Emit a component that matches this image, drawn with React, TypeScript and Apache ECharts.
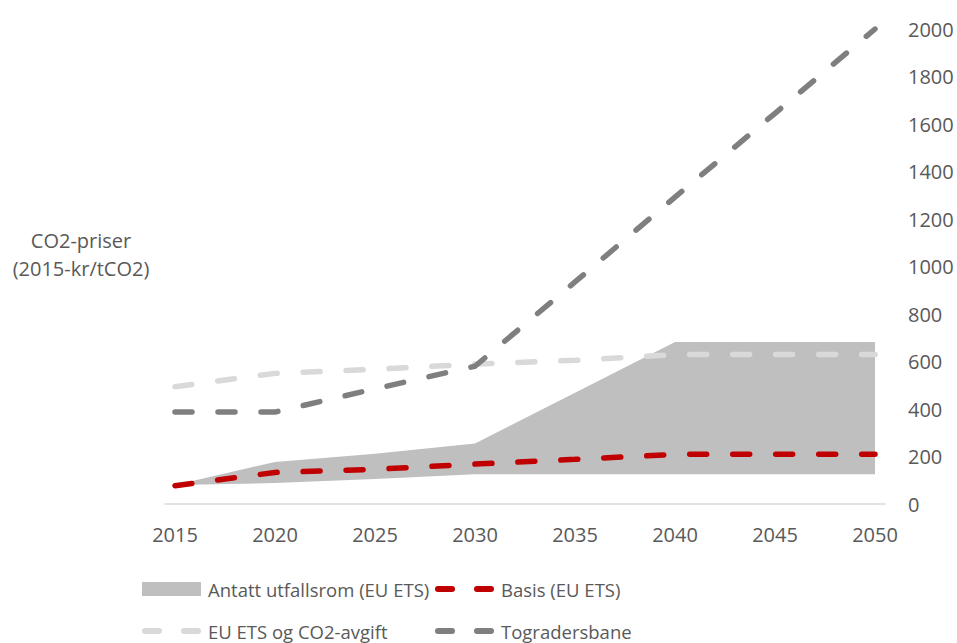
import React, { useEffect, useRef } from "react";
import * as echarts from "echarts";

const years: string[] = [];
for (let y = 2015; y <= 2050; y++) years.push(String(y));

const pointYears = ["2015", "2020", "2025", "2030", "2035", "2040", "2045", "2050"];
const rangeLower = [80, 88, 105, 125, 125, 125, 125, 125];
const rangeUpper = [80, 177, 212, 255, 468, 682, 682, 682];
const basis = [77, 133, 146, 168, 188, 209, 209, 209];
const etsAvgift = [494, 550, 567, 589, 605, 629, 629, 629];
const togradersbane = [387, 387, 485, 580, 935, 1292, 1645, 2000];

const yTicksMax = 2000;
const yTickStep = 200;

const FONT = "'Open Sans', sans-serif";
const TEXT = "#595959";

const pairs = (vals: number[]) => pointYears.map((y, i) => [y, vals[i]]);

const DASH_ICON =
  "path://M3,0 H17 A3,3 0 0 1 17,6 H3 A3,3 0 0 1 3,0 Z M42,0 H56 A3,3 0 0 1 56,6 H42 A3,3 0 0 1 42,0 Z";

export default function App() {
  const ref = useRef<HTMLDivElement>(null);
  useEffect(() => {
    if (!ref.current) return;
    const chart = echarts.init(ref.current, undefined, { renderer: "svg" });
    const dash = [17, 26];
    const lineSeries = (name: string, vals: number[], color: string, z: number) => ({
      name,
      type: "line",
      data: pairs(vals),
      symbol: "none",
      z,
      lineStyle: { color, width: 5.5, type: dash, cap: "round" },
      itemStyle: { color },
    });
    const legendText = { color: TEXT, fontSize: 18.5, fontFamily: FONT, lineHeight: 20, padding: [0, 0, 0, 2] };
    const mkLegend = (name: string, left: number, top: number, color: string, rect: boolean) => ({
      orient: "horizontal",
      left,
      top,
      padding: 0,
      itemWidth: 59,
      itemHeight: rect ? 14 : 6,
      selectedMode: false,
      textStyle: legendText,
      data: [{ name, icon: rect ? "rect" : DASH_ICON, itemStyle: { color } }],
    });
    chart.setOption({
      animation: false,
      backgroundColor: "#ffffff",
      textStyle: { fontFamily: FONT },
      grid: { left: 165, right: 72, top: 29, bottom: 139, containLabel: false, outerBoundsMode: "none" },
      xAxis: {
        type: "category",
        data: years,
        boundaryGap: true,
        axisLine: { show: true, lineStyle: { color: "#D9D9D9", width: 1.5 } },
        axisTick: { show: false },
        axisLabel: {
          interval: 4,
          color: TEXT,
          fontSize: 20,
          fontFamily: FONT,
          margin: 20,
        },
        splitLine: { show: false },
      },
      yAxis: {
        type: "value",
        position: "right",
        min: 0,
        max: yTicksMax,
        interval: yTickStep,
        axisLine: { show: false },
        axisTick: { show: false },
        splitLine: { show: false },
        axisLabel: {
          color: TEXT,
          fontSize: 20,
          fontFamily: FONT,
          margin: 23,
          formatter: (v: number) => String(v),
        },
      },
      legend: [
        mkLegend("Antatt utfallsrom (EU ETS)", 142, 579, "#BFBFBF", true),
        mkLegend("Basis (EU ETS)", 435, 579, "#C00000", false),
        mkLegend("EU ETS og CO2-avgift", 142, 621, "#D9D9D9", false),
        mkLegend("Togradersbane", 435, 621, "#7F7F7F", false),
      ],
      graphic: [
        {
          type: "text",
          x: 81,
          y: 254,
          style: {
            text: "CO2-priser\n(2015-kr/tCO2)",
            fill: TEXT,
            font: `20px ${FONT}`,
            textAlign: "center",
            textVerticalAlign: "middle",
            lineHeight: 28,
          },
        },
      ],
      series: [
        {
          name: "base",
          type: "line",
          stack: "range",
          data: pairs(rangeLower),
          symbol: "none",
          lineStyle: { width: 0, opacity: 0 },
          areaStyle: { color: "rgba(0,0,0,0)" },
          z: 1,
        },
        {
          name: "Antatt utfallsrom (EU ETS)",
          type: "line",
          stack: "range",
          data: pointYears.map((y, i) => [y, rangeUpper[i] - rangeLower[i]]),
          symbol: "none",
          lineStyle: { width: 0, opacity: 0 },
          itemStyle: { color: "#BFBFBF" },
          areaStyle: { color: "#BFBFBF", opacity: 1 },
          z: 1,
        },
        lineSeries("EU ETS og CO2-avgift", etsAvgift, "#D9D9D9", 2),
        lineSeries("Basis (EU ETS)", basis, "#C00000", 3),
        lineSeries("Togradersbane", togradersbane, "#7F7F7F", 4),
      ],
    });
    return () => chart.dispose();
  }, []);
  return <div ref={ref} style={{ width: 957, height: 643, position: "absolute", left: 0, top: 0 }} />;
}
